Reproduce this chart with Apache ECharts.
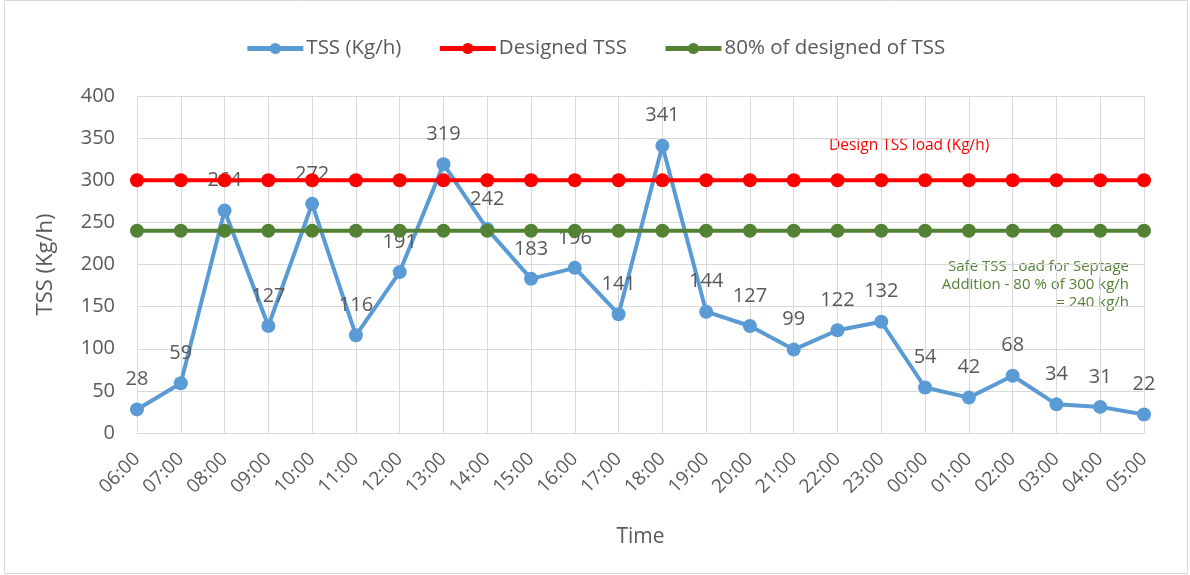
<!DOCTYPE html>
<html><head><meta charset="utf-8">
<script src="https://cdn.jsdelivr.net/npm/echarts@6/dist/echarts.min.js"></script>
<style>html,body{margin:0;padding:0;background:#fff}#c{width:1190px;height:575px}</style>
</head><body><div id="c"></div>
<script>
var categories = ["06:00","07:00","08:00","09:00","10:00","11:00","12:00","13:00","14:00","15:00","16:00","17:00","18:00","19:00","20:00","21:00","22:00","23:00","00:00","01:00","02:00","03:00","04:00","05:00"];
var tss = [28,59,264,127,272,116,191,319,242,183,196,141,341,144,127,99,122,132,54,42,68,34,31,22];
var designed = categories.map(function(){return 300;});
var eighty = categories.map(function(){return 240;});
var seriesNames = ["TSS (Kg/h)","Designed TSS","80% of designed of TSS"];
var greenNote = ["Safe TSS Load for Septage","Addition - 80 % of 300 kg/h","= 240 kg/h"];
var FONT = "Open Sans";
var chart = echarts.init(document.getElementById('c'));
var gfx = [
  {type:'rect',shape:{x:4.5,y:0.5,width:1183,height:573},style:{fill:null,stroke:'#d9d9d9',lineWidth:1},z:-1},
  {type:'text',left:829,top:138,style:{text:'Design TSS load (Kg/h)',fill:'#ff0000',font:'15.5px "'+FONT+'"'}}
];
greenNote.forEach(function(t,i){
  gfx.push({type:'text',x:1129,y:267+i*18,style:{text:t,fill:'#548235',font:'15px "'+FONT+'"',align:'right',verticalAlign:'middle'}});
});
chart.setOption({
  animation:false,
  textStyle:{fontFamily:FONT},
  graphic:gfx,
  legend:{top:33,left:'center',itemWidth:56,itemHeight:14,itemGap:36,
    lineStyle:{width:5},
    textStyle:{fontSize:20.5,color:'#595959',fontFamily:FONT,padding:[0,0,0,-2]},data:seriesNames},
  grid:{left:137,right:46,top:96,bottom:142},
  xAxis:{type:'category',data:categories,boundaryGap:false,
    name:'Time',nameLocation:'middle',nameGap:94,nameTextStyle:{fontSize:21,color:'#595959'},
    axisLine:{lineStyle:{color:'#d9d9d9'}},axisTick:{show:false},
    splitLine:{show:true,lineStyle:{color:'#d9d9d9',width:1}},
    axisLabel:{rotate:45,fontSize:19,color:'#595959',margin:23,interval:0}},
  yAxis:{type:'value',min:0,max:400,interval:50,
    name:'TSS (Kg/h)',nameLocation:'middle',nameGap:80,nameTextStyle:{fontSize:22,color:'#595959'},
    axisLine:{show:false},axisTick:{show:false},
    splitLine:{lineStyle:{color:'#d9d9d9',width:1}},
    axisLabel:{fontSize:20,color:'#595959',margin:22}},
  series:[
    {name:seriesNames[0],type:'line',data:tss,color:'#5b9bd5',symbol:'circle',symbolSize:14,
      lineStyle:{width:4},z:2,
      label:{show:true,position:'top',distance:13,fontSize:20,color:'#595959'}},
    {name:seriesNames[1],type:'line',data:designed,color:'#ff0000',symbol:'circle',symbolSize:14,
      lineStyle:{width:4},z:3},
    {name:seriesNames[2],type:'line',data:eighty,color:'#548235',symbol:'circle',symbolSize:14,
      lineStyle:{width:4},z:3}
  ]
});
</script></body></html>
